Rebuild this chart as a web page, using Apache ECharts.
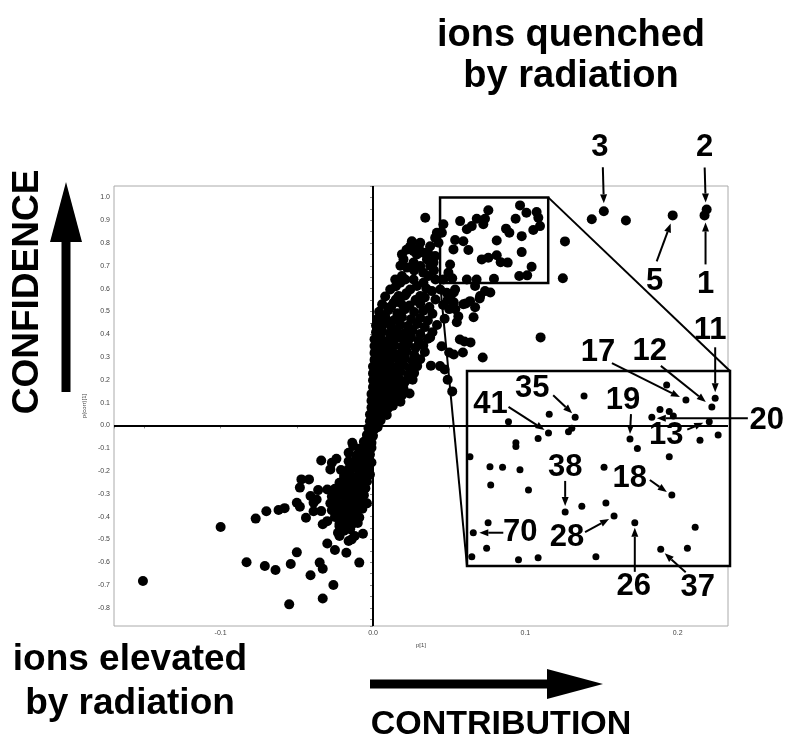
<!DOCTYPE html>
<html>
<head>
<meta charset="utf-8">
<title>S-plot</title>
<script src="https://cdn.jsdelivr.net/npm/echarts@6/dist/echarts.min.js"></script>
<style>
  html, body { margin: 0; padding: 0; background: #fff; }
  #chart { width: 796px; height: 743px; }
</style>
</head>
<body>
<div id="chart"></div>
<script>
// ---------------------------------------------------------------- data
// p[1] / p(corr)[1] pairs

// lower-left tail (ions elevated)
const lowerTail = [
  [-0.151, -0.683], [-0.100, -0.446], [-0.083, -0.600], [-0.077, -0.409], [-0.071, -0.617],
  [-0.070, -0.377], [-0.064, -0.634], [-0.062, -0.371], [-0.058, -0.363], [-0.055, -0.785],
  [-0.054, -0.608], [-0.050, -0.557], [-0.050, -0.339], [-0.048, -0.357], [-0.048, -0.273],
  [-0.047, -0.237], [-0.044, -0.405], [-0.042, -0.237], [-0.041, -0.657], [-0.041, -0.310],
  [-0.039, -0.377], [-0.039, -0.339], [-0.037, -0.325], [-0.036, -0.284], [-0.035, -0.602],
  [-0.034, -0.154], [-0.034, -0.376], [-0.033, -0.629], [-0.033, -0.759], [-0.033, -0.434],
  [-0.030, -0.518], [-0.030, -0.281], [-0.030, -0.420], [-0.028, -0.193], [-0.027, -0.164],
  [-0.026, -0.700], [-0.025, -0.547], [-0.025, -0.278], [-0.024, -0.146], [-0.023, -0.471],
  [-0.022, -0.442], [-0.022, -0.485], [-0.021, -0.196], [-0.020, -0.354], [-0.019, -0.237],
  [-0.0175, -0.559], [-0.017, -0.295], [-0.016, -0.507], [-0.016, -0.157], [-0.015, -0.383],
  [-0.014, -0.500], [-0.0136, -0.076], [-0.013, -0.251], [-0.012, -0.485], [-0.0105, -0.295],
  [-0.009, -0.602], [-0.008, -0.135], [-0.0066, -0.475], [-0.013, -0.090], [-0.016, -0.120]
];

// dense band below zero
const lowerCore = [
  [-0.004, -0.042], [-0.002, -0.036], [0.000, -0.046],
  [-0.006, -0.072], [-0.003, -0.066], [-0.001, -0.076],
  [-0.009, -0.102], [-0.006, -0.096], [-0.003, -0.106], [-0.001, -0.098],
  [-0.011, -0.132], [-0.008, -0.126], [-0.005, -0.136], [-0.002, -0.128],
  [-0.014, -0.162], [-0.010, -0.156], [-0.007, -0.166], [-0.004, -0.158], [-0.001, -0.163],
  [-0.016, -0.192], [-0.012, -0.186], [-0.009, -0.196], [-0.006, -0.188], [-0.003, -0.193],
  [-0.019, -0.222], [-0.015, -0.216], [-0.011, -0.226], [-0.008, -0.218], [-0.005, -0.224], [-0.002, -0.216],
  [-0.022, -0.252], [-0.018, -0.246], [-0.014, -0.256], [-0.010, -0.248], [-0.007, -0.254], [-0.004, -0.246],
  [-0.025, -0.282], [-0.020, -0.276], [-0.016, -0.286], [-0.012, -0.278], [-0.009, -0.284], [-0.005, -0.276],
  [-0.027, -0.312], [-0.022, -0.306], [-0.018, -0.316], [-0.014, -0.308], [-0.010, -0.314], [-0.006, -0.306],
  [-0.028, -0.342], [-0.024, -0.336], [-0.020, -0.346], [-0.016, -0.338], [-0.012, -0.344], [-0.008, -0.336], [-0.004, -0.342],
  [-0.027, -0.372], [-0.023, -0.366], [-0.019, -0.376], [-0.015, -0.368], [-0.011, -0.374], [-0.007, -0.366],
  [-0.025, -0.402], [-0.021, -0.396], [-0.017, -0.406], [-0.013, -0.398], [-0.009, -0.404],
  [-0.022, -0.432], [-0.018, -0.426], [-0.014, -0.436], [-0.010, -0.428],
  [-0.019, -0.462], [-0.015, -0.456],
  [-0.017, -0.325], [-0.021, -0.360], [-0.013, -0.292], [-0.024, -0.389], [-0.009, -0.262]
];

// dense band above zero
const upperCore = [
  [0.008, 0.565], [0.015, 0.552], [0.021, 0.570], [0.028, 0.548], [0.034, 0.561], [0.041, 0.552], [0.049, 0.550],
  [0.006, 0.531], [0.012, 0.522], [0.018, 0.538], [0.024, 0.526], [0.031, 0.533], [0.037, 0.519], [0.046, 0.528],
  [0.004, 0.498], [0.010, 0.505], [0.016, 0.492], [0.021, 0.509], [0.027, 0.497], [0.033, 0.503], [0.039, 0.490], [0.050, 0.510],
  [0.003, 0.468], [0.008, 0.476], [0.014, 0.462], [0.019, 0.474], [0.025, 0.466], [0.031, 0.471], [0.036, 0.460], [0.047, 0.468],
  [0.002, 0.438], [0.007, 0.446], [0.012, 0.433], [0.018, 0.441], [0.023, 0.436], [0.029, 0.445], [0.034, 0.431], [0.042, 0.440],
  [0.002, 0.408], [0.006, 0.414], [0.011, 0.403], [0.016, 0.412], [0.021, 0.405], [0.026, 0.416], [0.031, 0.401], [0.039, 0.409],
  [0.001, 0.378], [0.005, 0.385], [0.010, 0.372], [0.015, 0.381], [0.020, 0.376], [0.025, 0.386], [0.030, 0.371], [0.036, 0.380],
  [0.001, 0.348], [0.005, 0.354], [0.009, 0.342], [0.014, 0.351], [0.019, 0.345], [0.023, 0.356], [0.028, 0.341], [0.033, 0.350], [0.045, 0.347],
  [0.001, 0.318], [0.004, 0.325], [0.008, 0.312], [0.013, 0.321], [0.018, 0.316], [0.022, 0.327], [0.027, 0.310], [0.034, 0.322],
  [0.001, 0.288], [0.004, 0.294], [0.008, 0.283], [0.012, 0.291], [0.017, 0.286], [0.021, 0.296], [0.026, 0.281], [0.031, 0.290],
  [0.000, 0.258], [0.003, 0.264], [0.007, 0.253], [0.011, 0.262], [0.015, 0.255], [0.020, 0.266], [0.024, 0.251], [0.029, 0.260], [0.038, 0.262],
  [0.000, 0.228], [0.003, 0.235], [0.007, 0.224], [0.010, 0.232], [0.014, 0.226], [0.018, 0.236], [0.023, 0.222], [0.027, 0.230],
  [0.000, 0.198], [0.003, 0.204], [0.006, 0.193], [0.010, 0.202], [0.013, 0.196], [0.017, 0.206], [0.021, 0.192], [0.026, 0.200],
  [0.000, 0.168], [0.002, 0.175], [0.006, 0.163], [0.009, 0.172], [0.012, 0.166], [0.016, 0.176], [0.020, 0.162],
  [-0.001, 0.138], [0.002, 0.145], [0.005, 0.133], [0.008, 0.142], [0.011, 0.136], [0.015, 0.146], [0.019, 0.132], [0.024, 0.140],
  [-0.001, 0.108], [0.002, 0.115], [0.005, 0.103], [0.008, 0.112], [0.011, 0.106], [0.014, 0.116], [0.018, 0.104],
  [-0.001, 0.078], [0.001, 0.085], [0.004, 0.073], [0.007, 0.082], [0.010, 0.076], [0.013, 0.086],
  [-0.002, 0.048], [0.001, 0.055], [0.004, 0.044], [0.006, 0.052], [0.009, 0.046],
  [-0.002, 0.018], [0.000, 0.025], [0.003, 0.014], [0.005, 0.022],
  [-0.003, -0.012], [-0.001, -0.005], [0.001, -0.016], [0.003, -0.008],
  [0.012, 0.455], [0.017, 0.395], [0.008, 0.330], [0.015, 0.300], [0.005, 0.240], [0.011, 0.185], [0.006, 0.125]
];

// upper arm, left of the zoom window
const upperArm = [
  [0.0343, 0.911], [0.031, 0.801], [0.0255, 0.808], [0.0244, 0.786], [0.019, 0.750],
  [0.020, 0.728], [0.0266, 0.764], [0.0288, 0.750], [0.0331, 0.757], [0.0375, 0.786],
  [0.0408, 0.823], [0.0419, 0.845], [0.043, 0.801], [0.0354, 0.728], [0.0375, 0.699],
  [0.031, 0.699], [0.0266, 0.714], [0.0223, 0.692], [0.019, 0.655], [0.0113, 0.596],
  [0.0146, 0.640], [0.0179, 0.626], [0.0212, 0.640], [0.0266, 0.640], [0.0288, 0.611],
  [0.0331, 0.626], [0.0364, 0.655], [0.0397, 0.714], [0.0408, 0.743], [0.0244, 0.596],
  [0.0168, 0.567], [0.0135, 0.538], [0.0102, 0.516], [0.020, 0.523], [0.031, 0.567],
  [0.0386, 0.589], [0.0441, 0.596], [0.0484, 0.582], [0.0506, 0.560], [0.0539, 0.596],
  [0.0593, 0.531], [0.0637, 0.545], [0.0703, 0.567], [0.0735, 0.589], [0.067, 0.611],
  [0.022, 0.770], [0.030, 0.780], [0.036, 0.760], [0.027, 0.680], [0.033, 0.670],
  [0.040, 0.680], [0.018, 0.700], [0.015, 0.610], [0.022, 0.580], [0.028, 0.550],
  [0.035, 0.600], [0.041, 0.640]
];

// scattered points to the right of the band
const rightScatter = [
  [0.077, 0.583], [0.070, 0.557], [0.061, 0.535], [0.067, 0.518], [0.053, 0.583],
  [0.053, 0.540], [0.054, 0.509], [0.056, 0.478], [0.066, 0.474], [0.055, 0.452],
  [0.057, 0.377], [0.060, 0.368], [0.064, 0.364], [0.053, 0.311], [0.059, 0.320],
  [0.072, 0.298], [0.110, 0.386], [0.047, 0.245], [0.049, 0.200], [0.052, 0.149],
  [0.044, 0.260], [0.0375, 0.386], [0.050, 0.320]
];

// far right, top (ions 3, 5, 2, 1)
const topOutliers = [
  [0.1515, 0.939], [0.1436, 0.904], [0.166, 0.899], [0.1967, 0.921],
  [0.219, 0.947], [0.2176, 0.921], [0.126, 0.807], [0.1246, 0.645]
];

// points inside the zoom window, as drawn in the main plot
const boxPoints = [
  [0.0965, 0.965], [0.1007, 0.933], [0.1074, 0.936], [0.1085, 0.911], [0.0936, 0.906],
  [0.1096, 0.874], [0.1052, 0.857], [0.0757, 0.944], [0.0735, 0.906], [0.0681, 0.906],
  [0.0724, 0.882], [0.0648, 0.874], [0.0616, 0.860], [0.0572, 0.896], [0.0873, 0.863],
  [0.0895, 0.845], [0.0976, 0.830], [0.0812, 0.811], [0.0976, 0.760], [0.1041, 0.696],
  [0.096, 0.655], [0.1012, 0.658], [0.0794, 0.643], [0.0757, 0.735], [0.0714, 0.728],
  [0.0812, 0.746], [0.0838, 0.716], [0.0884, 0.714], [0.0626, 0.769], [0.0539, 0.813],
  [0.0593, 0.808], [0.0528, 0.772], [0.0462, 0.882], [0.0452, 0.845], [0.0506, 0.706],
  [0.0495, 0.670], [0.0616, 0.640], [0.0680, 0.640], [0.0462, 0.640], [0.0520, 0.645]
];

// the magnified window
const zoomX = [0.044, 0.115];
const zoomY = [0.625, 1.0];

// points in the magnified inset
const insetPoints = [
  [0.0979, 0.973], [0.1031, 0.944], [0.1110, 0.9475], [0.1101, 0.931], [0.0961, 0.926],
  [0.0986, 0.922], [0.0997, 0.9135], [0.0939, 0.911], [0.1094, 0.9025], [0.1118, 0.877],
  [0.1069, 0.867], [0.0880, 0.869], [0.0900, 0.851], [0.0986, 0.835], [0.0756, 0.952],
  [0.0732, 0.911], [0.0723, 0.890], [0.0714, 0.883], [0.0662, 0.917], [0.0660, 0.881],
  [0.0632, 0.870], [0.0552, 0.9025], [0.0572, 0.862], [0.0572, 0.855], [0.0448, 0.835],
  [0.0502, 0.816], [0.0536, 0.815], [0.0583, 0.810], [0.0504, 0.781], [0.0606, 0.771],
  [0.0810, 0.815], [0.0705, 0.729], [0.0750, 0.740], [0.0815, 0.746], [0.0837, 0.721],
  [0.0993, 0.7615], [0.0893, 0.708], [0.1056, 0.6995], [0.1035, 0.659], [0.0963, 0.657],
  [0.0457, 0.689], [0.0497, 0.708], [0.0493, 0.659], [0.0453, 0.643], [0.0579, 0.637],
  [0.0632, 0.641], [0.0788, 0.643]
];

// numbered ions: label, index into its array
const mainIons = [['3', 0], ['2', 4], ['5', 3], ['1', 5]];
const insetIons = [
  ['11', 2], ['12', 3], ['17', 1], ['20', 7], ['13', 8], ['19', 11], ['35', 15],
  ['41', 19], ['38', 31], ['18', 35], ['70', 40], ['28', 34], ['26', 36], ['37', 39]
];

// ---------------------------------------------------------------- chart
const FONT = '"Liberation Sans", Arial, sans-serif';
const chart = echarts.init(document.getElementById('chart'), null, { renderer: 'canvas' });

const mainPoints = [].concat(lowerTail, lowerCore, upperCore, upperArm, rightScatter, topOutliers, boxPoints);

const axisCommon = {
  type: 'value',
  axisLine: { show: false },
  axisTick: { show: true, length: 3, lineStyle: { color: '#888', width: 1 } },
  minorTick: { show: true, splitNumber: 2, length: 3, lineStyle: { color: '#888', width: 1 } },
  splitLine: { show: false },
  axisLabel: {
    fontSize: 7, color: '#444', fontFamily: FONT, margin: 4,
    showMinLabel: false, showMaxLabel: false,
    formatter: (v) => v.toFixed(1)
  }
};

chart.setOption({
  animation: false,
  backgroundColor: '#fff',
  grid: [
    { left: 114, top: 186, width: 614, height: 440, show: true, borderColor: '#aaa', borderWidth: 1 },
    { left: 467, top: 371, width: 263, height: 195, show: false }
  ],
  xAxis: [
    Object.assign({}, axisCommon, {
      gridIndex: 0, min: -0.17, max: 0.233, splitNumber: 4,
      name: 'p[1]', nameLocation: 'middle', nameGap: 16,
      nameTextStyle: { fontSize: 6, color: '#444', fontFamily: FONT }
    }),
    { type: 'value', gridIndex: 1, min: zoomX[0], max: zoomX[1], show: false }
  ],
  yAxis: [
    Object.assign({}, axisCommon, {
      gridIndex: 0, min: -0.88, max: 1.05, splitNumber: 20,
      name: 'p(corr)[1]', nameLocation: 'middle', nameGap: 18,
      nameTextStyle: { fontSize: 6, color: '#444', fontFamily: FONT }
    }),
    { type: 'value', gridIndex: 1, min: zoomY[0], max: zoomY[1], show: false }
  ],
  series: [
    {
      // zero lines
      type: 'line', xAxisIndex: 0, yAxisIndex: 0, data: [], z: 1,
      markLine: {
        silent: true, symbol: 'none', label: { show: false },
        lineStyle: { color: '#000', width: 2, type: 'solid' },
        data: [{ xAxis: 0 }, { yAxis: 0 }]
      }
    },
    {
      type: 'scatter', xAxisIndex: 0, yAxisIndex: 0, z: 2,
      symbolSize: 10, itemStyle: { color: '#000', opacity: 1 },
      data: mainPoints,
      markArea: {
        silent: true,
        itemStyle: { color: 'rgba(0,0,0,0)', borderColor: '#000', borderWidth: 2.5 },
        data: [[{ coord: [zoomX[0], zoomY[1]] }, { coord: [zoomX[1], zoomY[0]] }]]
      }
    },
    {
      type: 'scatter', xAxisIndex: 1, yAxisIndex: 1, z: 5,
      symbolSize: 7, itemStyle: { color: '#000', opacity: 1 },
      data: insetPoints
    }
  ]
});

// ---------------------------------------------------------------- overlays
function px(grid, p) {
  return chart.convertToPixel({ xAxisIndex: grid, yAxisIndex: grid }, p);
}

function arrow(x1, y1, x2, y2, w, hl, hw, z) {
  const a = Math.atan2(y2 - y1, x2 - x1);
  const c = Math.cos(a), s = Math.sin(a);
  const bx = x2 - hl * c, by = y2 - hl * s;
  return [
    { type: 'line', z: z, shape: { x1: x1, y1: y1, x2: bx, y2: by }, style: { stroke: '#000', lineWidth: w } },
    {
      type: 'polygon', z: z,
      shape: { points: [[x2, y2], [bx - hw / 2 * s, by + hw / 2 * c], [bx + hw / 2 * s, by - hw / 2 * c]] },
      style: { fill: '#000' }
    }
  ];
}

function bigText(text, x, y, size, rot) {
  return {
    type: 'text', x: x, y: y, rotation: rot || 0, z: 20,
    style: { text: text, font: 'bold ' + size + 'px ' + FONT, fill: '#000', align: 'center', verticalAlign: 'middle' }
  };
}

// label and arrow offsets (px) from the point
const mainOffsets = {
  '3': { lab: [-4, -64], from: [-1, -44], to: [0, -8] },
  '2': { lab: [-2, -62], from: [-2, -42], to: [-1, -7] },
  '5': { lab: [-18, 66], from: [-16, 46], to: [-2, 8] },
  '1': { lab: [1, 69], from: [1, 49], to: [1, 7] }
};
const insetOffsets = {
  '11': { lab: [-5, -68], from: [0, -51], to: [0, -6] },
  '12': { lab: [-62, -55], from: [-51, -41], to: [-6, -5] },
  '17': { lab: [-88, -48], from: [-74, -37], to: [-6, -3] },
  '20': { lab: [115, 3], from: [96, 1], to: [5, 1] },
  '13': { lab: [-43, 14], from: [-22, 8], to: [-6, 1] },
  '19': { lab: [-7, -39], from: [1, -25], to: [0, -5] },
  '35': { lab: [-43, -29], from: [-22, -22], to: [-3, -4] },
  '41': { lab: [-58, -28], from: [-40, -26], to: [-4, -3] },
  '38': { lab: [0, -44], from: [0, -31], to: [0, -6] },
  '18': { lab: [-42, -17], from: [-22, -15], to: [-5, -3] },
  '70': { lab: [47, 0], from: [30, 0], to: [6, 0] },
  '28': { lab: [-47, 21], from: [-29, 16], to: [-5, 3] },
  '26': { lab: [-1, 64], from: [0, 49], to: [0, 5] },
  '37': { lab: [37, 38], from: [25, 23], to: [4, 4] }
};

const g = [];

// inset frame (white, hides the zero line) and the two connectors
const iTL = px(1, [zoomX[0], zoomY[1]]);
const iBR = px(1, [zoomX[1], zoomY[0]]);
g.push({
  type: 'rect', z: 3,
  shape: { x: iTL[0], y: iTL[1], width: iBR[0] - iTL[0], height: iBR[1] - iTL[1] },
  style: { fill: '#fff', stroke: '#000', lineWidth: 2.5 }
});
const bTR = px(0, [zoomX[1], zoomY[1]]);
const bBL = px(0, [zoomX[0], zoomY[0]]);
g.push({ type: 'line', z: 4, shape: { x1: bTR[0], y1: bTR[1], x2: iBR[0], y2: iTL[1] }, style: { stroke: '#000', lineWidth: 2 } });
g.push({ type: 'line', z: 4, shape: { x1: bBL[0], y1: bBL[1], x2: iTL[0], y2: iBR[1] }, style: { stroke: '#000', lineWidth: 2 } });

function callouts(list, arr, grid, offs) {
  list.forEach(([t, i]) => {
    const p = px(grid, arr[i]);
    const o = offs[t];
    g.push(bigText(t, p[0] + o.lab[0], p[1] + o.lab[1], 31, 0));
    arrow(p[0] + o.from[0], p[1] + o.from[1], p[0] + o.to[0], p[1] + o.to[1], 2, 9, 7, 20).forEach((e) => g.push(e));
  });
}
callouts(mainIons, topOutliers, 0, mainOffsets);
callouts(insetIons, insetPoints, 1, insetOffsets);

// figure captions and the two big arrows
g.push(bigText('ions quenched', 571, 36, 38, 0));
g.push(bigText('by radiation', 571, 77, 38, 0));
g.push(bigText('CONFIDENCE', 28, 292, 37, Math.PI / 2));
g.push(bigText('ions elevated', 130, 660, 37, 0));
g.push(bigText('by radiation', 130, 704, 37, 0));
g.push(bigText('CONTRIBUTION', 501, 725, 34, 0));
arrow(66, 392, 66, 182, 9, 60, 32, 20).forEach((e) => g.push(e));
arrow(370, 684, 603, 684, 9, 56, 30, 20).forEach((e) => g.push(e));

chart.setOption({ graphic: { elements: g } });
</script>
</body>
</html>
